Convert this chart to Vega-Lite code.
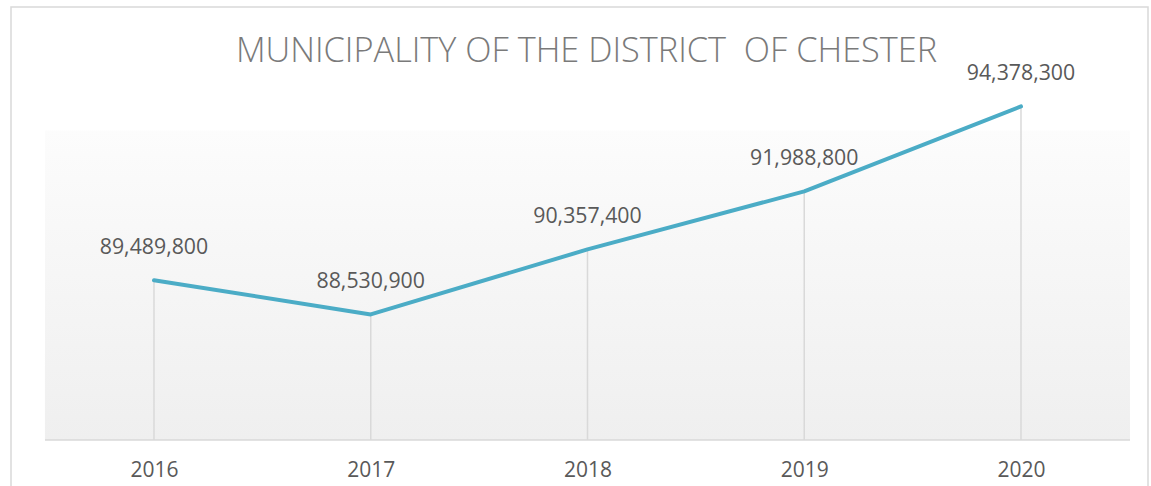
{
  "$schema": "https://vega.github.io/schema/vega-lite/v6.json",
  "width": 1137,
  "height": 482,
  "autosize": {"type": "none"},
  "padding": {"left": 11, "top": 7, "right": 3, "bottom": -3},
  "background": "white",
  "config": {
    "view": {"stroke": "#d9d9d9", "strokeWidth": 1.5},
    "font": "Open Sans"
  },
  "title": {
    "text": "MUNICIPALITY OF THE DISTRICT \u00a0OF CHESTER",
    "font": "Open Sans",
    "fontSize": 34.3,
    "fontWeight": 300,
    "color": "#7a7a7a",
    "anchor": "middle",
    "offset": -62,
    "dx": 7
  },
  "data": {
    "values": [
      {"year": 2016, "value": 89489800},
      {"year": 2017, "value": 88530900},
      {"year": 2018, "value": 90357400},
      {"year": 2019, "value": 91988800},
      {"year": 2020, "value": 94378300}
    ]
  },
  "layer": [
    {
      "data": {"values": [{}]},
      "mark": {
        "type": "rect",
        "fill": {
          "gradient": "linear",
          "x1": 0, "y1": 0, "x2": 0, "y2": 1,
          "stops": [
            {"offset": 0, "color": "#fcfcfc"},
            {"offset": 1, "color": "#efefef"}
          ]
        }
      },
      "encoding": {
        "x": {
          "datum": 2015.497, "type": "quantitative",
          "scale": {"domain": [2015.3403, 2020.586], "nice": false, "zero": false},
          "axis": {
            "values": [2016, 2017, 2018, 2019, 2020],
            "format": "d",
            "domain": false,
            "ticks": false,
            "grid": false,
            "offset": -49,
            "labelFont": "Open Sans",
            "labelFontSize": 21,
            "labelColor": "#595959",
            "labelPadding": 19,
            "labelFlush": false,
            "labelOverlap": false,
            "title": null
          }
        },
        "x2": {"datum": 2020.503},
        "y": {"datum": 85000000, "type": "quantitative", "scale": {"domain": [83622400, 97173000], "nice": false, "zero": false}, "axis": null},
        "y2": {"datum": 93700000}
      }
    },
    {
      "mark": {"type": "rule", "color": "#d9d9d9", "strokeWidth": 1.5},
      "encoding": {
        "x": {"field": "year", "type": "quantitative"},
        "y": {"field": "value", "type": "quantitative"},
        "y2": {"datum": 85000000}
      }
    },
    {
      "data": {"values": [{}]},
      "mark": {"type": "rule", "color": "#d9d9d9", "strokeWidth": 1.5},
      "encoding": {
        "x": {"datum": 2015.497, "type": "quantitative"},
        "x2": {"datum": 2020.503},
        "y": {"datum": 85000000, "type": "quantitative"}
      }
    },
    {
      "mark": {"type": "line", "color": "#4bacc6", "strokeWidth": 4, "strokeCap": "round", "strokeJoin": "round"},
      "encoding": {
        "x": {"field": "year", "type": "quantitative"},
        "y": {"field": "value", "type": "quantitative"}
      }
    },
    {
      "mark": {"type": "text", "dy": -32, "baseline": "middle", "align": "center", "font": "Open Sans", "fontSize": 21.3, "color": "#595959"},
      "encoding": {
        "x": {"field": "year", "type": "quantitative"},
        "y": {"field": "value", "type": "quantitative"},
        "text": {"field": "value", "type": "quantitative", "format": ",.0f"}
      }
    }
  ]
}
